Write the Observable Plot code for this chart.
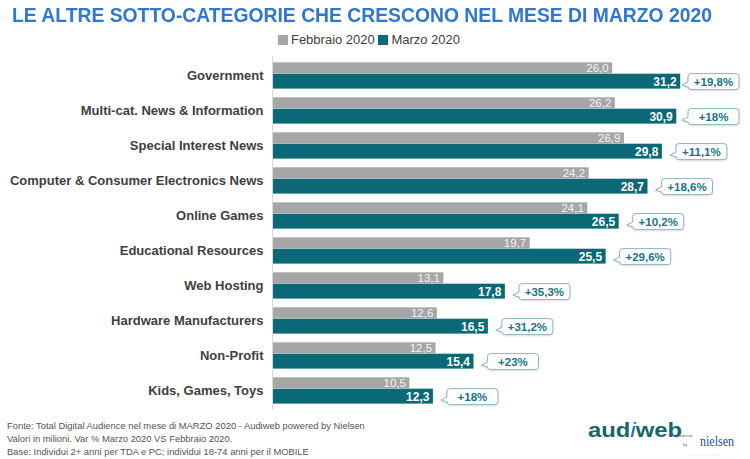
<!DOCTYPE html>
<html>
<head>
<meta charset="utf-8">
<script src="https://cdn.jsdelivr.net/npm/d3@7"></script>
<script src="https://cdn.jsdelivr.net/npm/@observablehq/plot@0.6"></script>
<style>
  html, body { margin: 0; padding: 0; background: #fff; }
  body { width: 750px; height: 459px; position: relative; overflow: hidden; font-family: "Liberation Sans", Arial, sans-serif; }
  #title { position: absolute; left: 12px; top: 3px; white-space: nowrap; font-weight: bold; font-size: 21px; color: #2f77cf; transform-origin: 0 0; }
  #legend { position: absolute; top: 32px; left: 0; width: 738px; text-align: center; font-size: 13px; color: #404040; }
  #legend span.sw { display: inline-block; width: 10px; height: 10px; margin-right: 3px; vertical-align: -1px; }
  #chart { position: absolute; left: 0; top: 51px; }
  #foot { position: absolute; left: 7px; top: 419px; font-size: 9.4px; line-height: 13px; color: #555; white-space: nowrap; }
  #logo { position: absolute; left: 584px; top: 413px; width: 166px; height: 46px; }
</style>
</head>
<body>
<div id="title">LE ALTRE SOTTO-CATEGORIE CHE CRESCONO NEL MESE DI MARZO 2020</div>
<div id="legend"></div>
<div id="chart"></div>
<div id="foot"></div>
<div id="logo"></div>
<script>
const categories = ["Government", "Multi-cat. News & Information", "Special Interest News", "Computer & Consumer Electronics News", "Online Games", "Educational Resources", "Web Hosting", "Hardware Manufacturers", "Non-Profit", "Kids, Games, Toys"];
const febbraio = [26.0, 26.2, 26.9, 24.2, 24.1, 19.7, 13.1, 12.6, 12.5, 10.5];
const marzo = [31.2, 30.9, 29.8, 28.7, 26.5, 25.5, 17.8, 16.5, 15.4, 12.3];
const variazione = ["+19,8%", "+18%", "+11,1%", "+18,6%", "+10,2%", "+29,6%", "+35,3%", "+31,2%", "+23%", "+18%"];
const seriesNames = ["Febbraio 2020", "Marzo 2020"];
const titleText = "LE ALTRE SOTTO-CATEGORIE CHE CRESCONO NEL MESE DI MARZO 2020";
const footLines = [
  "Fonte: Total Digital Audience nel mese di MARZO 2020 - Audiweb powered by Nielsen",
  "Valori in milioni. Var % Marzo 2020 VS Febbraio 2020.",
  "Base: Individui 2+ anni per TDA e PC; individui 18-74 anni per il MOBILE"
];

const GRAY = "#a6a6a6";
const TEAL = "#0b6877";
const fmt = v => v.toFixed(1).replace(".", ",");

const rows = categories.map((cat, i) => ({cat, feb: febbraio[i], mar: marzo[i], varz: variazione[i]}));

// title fit
const t = document.getElementById("title");
t.textContent = titleText;
const tw = t.getBoundingClientRect().width;
t.style.transform = `scaleX(${700 / tw})`;

// legend
const colors = [GRAY, TEAL];
document.getElementById("legend").innerHTML = seriesNames.map((s, i) =>
  `<span class="sw" style="background:${colors[i]}"></span>${s}`).join(" ");

document.getElementById("foot").innerHTML = footLines.join("<br>");

// callout mark (function mark using Plot scales)
function callouts(index, scales, values, dims) {
  const step = scales.y(categories[1]) - scales.y(categories[0]);
  const g = d3.create("svg:g");
  for (const d of rows) {
    const xe = scales.x(d.mar);
    const top = scales.y(d.cat);
    const yc = top + step * 0.66;
    const bx = Math.min(xe + 14, 688);
    const w = 51, h = 16, r = 3;
    const y0 = yc - h / 2 + 0.5;
    const tipX = bx - 6, tipY = yc + 4;
    const p = `M${bx + r},${y0} H${bx + w - r} Q${bx + w},${y0} ${bx + w},${y0 + r} V${y0 + h - r} Q${bx + w},${y0 + h} ${bx + w - r},${y0 + h} H${bx + r} Q${bx},${y0 + h} ${bx},${y0 + h - r} V${yc + 6} L${tipX},${tipY} L${bx},${yc + 1} V${y0 + r} Q${bx},${y0} ${bx + r},${y0} Z`;
    g.append("path").attr("d", p).attr("fill", "#fff").attr("stroke", "#8eb3be").attr("stroke-width", 1)
      .style("filter", "drop-shadow(0 1px 1px rgba(0,0,0,0.12))");
    g.append("text").attr("x", bx + w / 2).attr("y", y0 + h / 2).attr("dy", "0.35em")
      .attr("text-anchor", "middle").attr("font-size", 11.5).attr("font-weight", "bold")
      .attr("fill", "#1a7386").attr("font-family", "Liberation Sans, Arial, sans-serif").text(d.varz);
  }
  return g.node();
}

const H = 364, MT = 5, MB = 5;
const step = (H - MT - MB) / categories.length;

const chart = Plot.plot({
  width: 750,
  height: H,
  marginTop: MT,
  marginBottom: MB,
  marginLeft: 272,
  marginRight: 7,
  style: {fontFamily: "Liberation Sans, Arial, sans-serif", background: "transparent"},
  x: {domain: [0, 36], axis: null},
  y: {domain: categories, padding: 0, axis: null},
  marks: [
    Plot.barX(rows, {x: "feb", y: "cat", fill: GRAY, insetTop: step * 0.122, insetBottom: step * 0.557}),
    Plot.barX(rows, {x: "mar", y: "cat", fill: TEAL, insetTop: step * 0.443, insetBottom: step * 0.124}),
    Plot.ruleX([0], {stroke: "#d9d9d9"}),
    Plot.text(rows, {x: "feb", y: "cat", text: d => fmt(d.feb), dx: -4, dy: -step * 0.22, textAnchor: "end", fill: "#f4f4f4", fontSize: 11.5}),
    Plot.text(rows, {x: "mar", y: "cat", text: d => fmt(d.mar), dx: -4, dy: step * 0.16, textAnchor: "end", fill: "#ffffff", fontSize: 12, fontWeight: "bold"}),
    Plot.axisY({tickSize: 0, tickPadding: 9, fontSize: 13, fontWeight: "bold", fill: "#404040", label: null}),
    callouts
  ]
});
document.getElementById("chart").appendChild(chart);

// logo as text
const logo = d3.select("#logo").append("svg").attr("width", 166).attr("height", 46);
const aw = logo.append("text").attr("x", 4).attr("y", 24).attr("font-size", 21).attr("font-weight", "bold")
  .attr("font-family", "Liberation Sans, Arial, sans-serif").attr("fill", "#13686a")
  .attr("textLength", 94).attr("lengthAdjust", "spacingAndGlyphs");
aw.append("tspan").text("aud");
aw.append("tspan").attr("fill", "#2a5fb0").attr("font-style", "italic").attr("font-weight", "normal").text("i");
aw.append("tspan").text("web");
logo.append("text").attr("x", 93).attr("y", 24).attr("font-size", 4).attr("fill", "#666").text("powered");
logo.append("text").attr("x", 99).attr("y", 33).attr("font-size", 4).attr("fill", "#666").text("by");
logo.append("text").attr("x", 116).attr("y", 33).attr("font-size", 15).attr("font-family", "Liberation Serif, serif")
  .attr("fill", "#1b4f8a").attr("textLength", 34).attr("lengthAdjust", "spacingAndGlyphs").text("nielsen");
logo.append("text").attr("x", 106).attr("y", 43).attr("font-size", 4).attr("fill", "#1b4f8a").attr("letter-spacing", 2.5).text("........");
</script>
</body>
</html>
